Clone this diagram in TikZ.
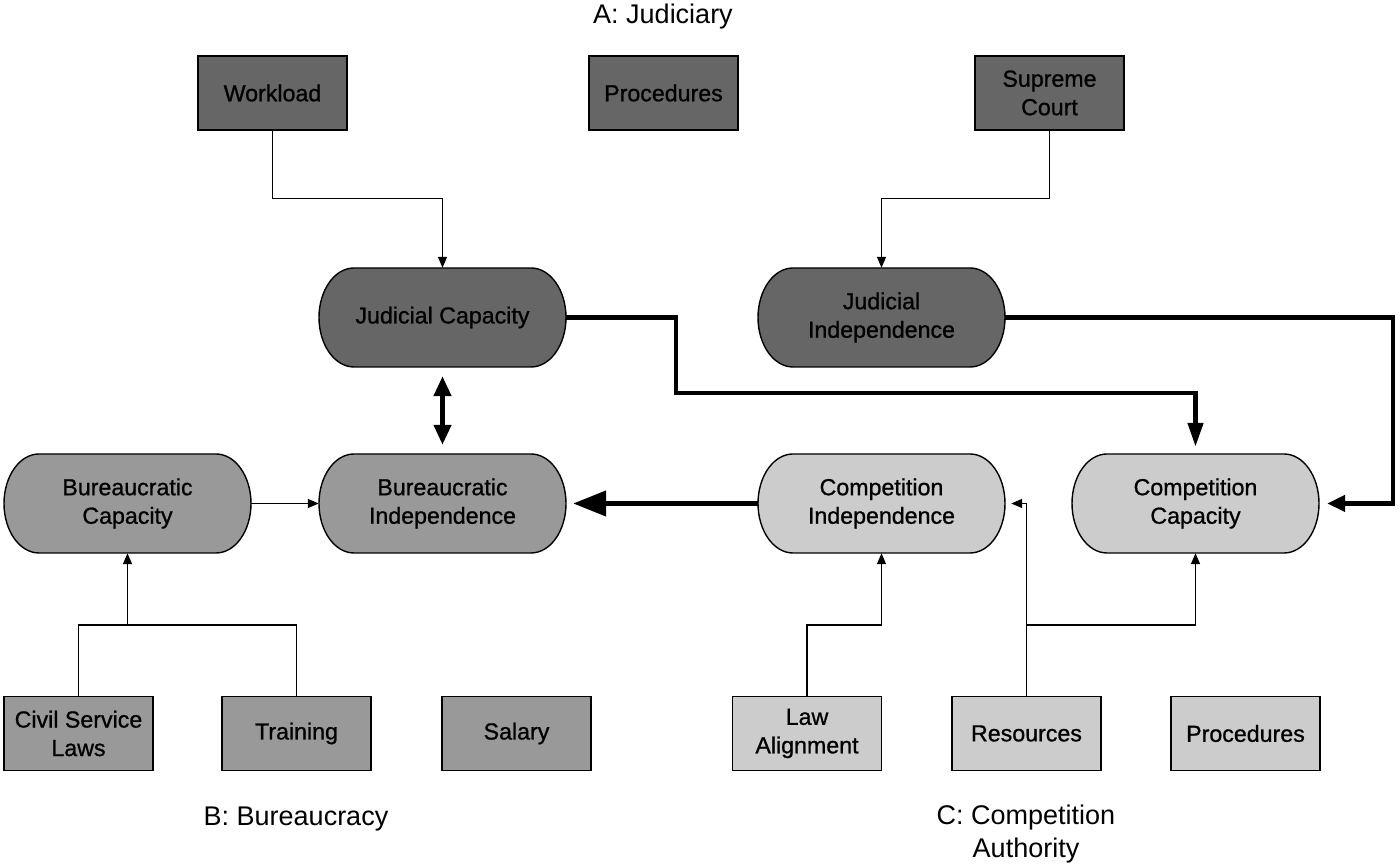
\documentclass[tikz,border=0pt]{standalone}
\usepackage{fontspec}
\setmainfont{Liberation Sans}
\newfontfamily\medfont[FakeBold=0.9]{Liberation Sans}
\usetikzlibrary{arrows.meta}
\definecolor{dk}{HTML}{666666}
\definecolor{md}{HTML}{999999}
\definecolor{lt}{HTML}{CCCCCC}
\newcommand{\nodefont}{\medfont\fontsize{23.2}{28.5}\selectfont}
\newcommand{\labfont}{\fontsize{27}{33}\selectfont}
\newcommand{\pillshape}[3]{%
  \filldraw[pillline, fill=#3] ({#1-88.5},{#2+49.5}) -- ({#1+88.5},{#2+49.5})
    arc[start angle=90,end angle=-90,x radius=35,y radius=49.5]
    -- ({#1-88.5},{#2-49.5})
    arc[start angle=270,end angle=90,x radius=35,y radius=49.5] -- cycle;}
\tikzset{
  pillline/.style={draw=black, line width=1.4pt},
  pilltext/.style={minimum width=247, minimum height=99, inner sep=0pt, align=center, font=\nodefont},
  box/.style={draw=black, line width=1.4pt, minimum width=149, minimum height=74, inner sep=0pt, align=center, font=\nodefont},
  lab/.style={align=center, font=\labfont, inner sep=0pt},
  thin/.style={line width=1.5pt},
  thinarrow/.style={thin, -{Triangle[length=11pt,width=9pt]}},
  thickline/.style={line width=4.5pt},
}
\begin{document}
\begin{tikzpicture}[x=1pt,y=1pt]
\useasboundingbox (0,0) rectangle (1400,866);
% labels
\node[lab] (la) at (663,849) {A: Judiciary};
\node[lab] (lb) at (296,47) {B: Bureaucracy};
\node[lab] (lc) at (1026,32) {C: Competition\\Authority};
% top boxes
\node[box, fill=dk] (wl) at (272.5,773) {Workload};
\node[box, fill=dk] (pj) at (663.5,773) {Procedures};
\node[box, fill=dk] (sc) at (1049.5,773) {Supreme\\Court};
% pills
\pillshape{442.5}{548.5}{dk}
\node[pilltext] (jc) at (442.5,548.5) {Judicial Capacity};
\pillshape{881.5}{548.5}{dk}
\node[pilltext] (ji) at (881.5,548.5) {Judicial\\Independence};
\pillshape{127.5}{362.5}{md}
\node[pilltext] (bc) at (127.5,362.5) {Bureaucratic\\Capacity};
\pillshape{442.5}{362.5}{md}
\node[pilltext] (bi) at (442.5,362.5) {Bureaucratic\\Independence};
\pillshape{881.5}{362.5}{lt}
\node[pilltext] (ci) at (881.5,362.5) {Competition\\Independence};
\pillshape{1195.5}{362.5}{lt}
\node[pilltext] (cc) at (1195.5,362.5) {Competition\\Capacity};
% bottom boxes
\node[box, fill=md] (csl) at (78.5,132.5) {Civil Service\\Laws};
\node[box, fill=md] (tr) at (296.5,132.5) {Training};
\node[box, fill=md] (sa) at (516.5,132.5) {Salary};
\node[box, fill=lt] (law) at (807,132.5) {Law\\Alignment};
\node[box, fill=lt] (res) at (1026.5,132.5) {Resources};
\node[box, fill=lt] (pc) at (1245.5,132.5) {Procedures};
% junction coordinates
\coordinate (jb) at (127.5,241);
\coordinate (jr) at (1026.5,241);
\coordinate (jj) at (676,473);
% thin connectors
\draw[thinarrow] (wl.south) -- ++(0,-68) -| (jc.north);
\draw[thinarrow] (sc.south) -- ++(0,-68) -| (ji.north);
\draw[thinarrow] (bc.east) -- (bi.west);
\draw[thin] (csl.north) |- (jb);
\draw[thinarrow] (tr.north) |- (jb) -- (bc.south);
\draw[thinarrow] (law.north) |- (881.5,241) -- (ci.south);
\draw[thinarrow, shorten >=6pt] (res.north) |- (ci.east);
\draw[thinarrow] (jr) -| (cc.south);
% thick connectors
\draw[thickline, -{Triangle[length=24pt,width=15pt]}, shorten >=7pt] (jc.east) -| (jj) -| (cc.north);
\draw[thickline, -{Triangle[length=18pt,width=16pt]}, shorten >=8pt] (ji.east) -- (1393,548.5) |- (cc.east);
\draw[thickline, -{Triangle[length=33pt,width=25pt]}, shorten >=7pt] (ci.west) -- (bi.east);
\draw[thickline, {Triangle[length=20pt,width=17pt]}-{Triangle[length=20pt,width=17pt]}, shorten >=9pt, shorten <=9pt] (jc.south) -- (bi.north);
\end{tikzpicture}
\end{document}
